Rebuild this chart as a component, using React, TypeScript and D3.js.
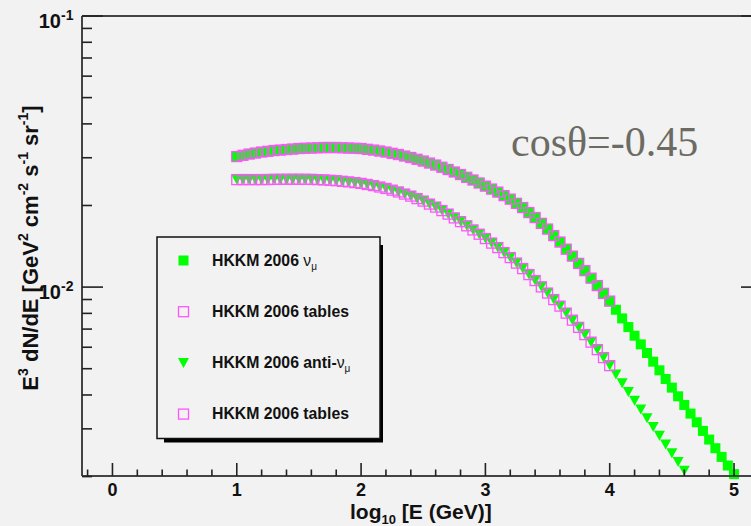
import React from 'react';
import * as d3 from 'd3';

// log10(E/GeV) grid of the HKKM 2006 points
const logE = [
  1.00, 1.05, 1.10, 1.15, 1.20, 1.25, 1.30, 1.35, 1.40, 1.45,
  1.50, 1.55, 1.60, 1.65, 1.70, 1.75, 1.80, 1.85, 1.90, 1.95,
  2.00, 2.05, 2.10, 2.15, 2.20, 2.25, 2.30, 2.35, 2.40, 2.45,
  2.50, 2.55, 2.60, 2.65, 2.70, 2.75, 2.80, 2.85, 2.90, 2.95,
  3.00, 3.05, 3.10, 3.15, 3.20, 3.25, 3.30, 3.35, 3.40, 3.45,
  3.50, 3.55, 3.60, 3.65, 3.70, 3.75, 3.80, 3.85, 3.90, 3.95,
  4.00, 4.05, 4.10, 4.15, 4.20, 4.25, 4.30, 4.35, 4.40, 4.45,
  4.50, 4.55, 4.60, 4.65, 4.70, 4.75, 4.80, 4.85, 4.90, 4.95,
  5.00,
];

// HKKM 2006 nu_mu, E^3 dN/dE
const nuFlux = [
  0.03030, 0.03063, 0.03096, 0.03122, 0.03149, 0.03169, 0.03189, 0.03202, 0.03217, 0.03230,
  0.03244, 0.03251, 0.03258, 0.03264, 0.03272, 0.03272, 0.03272, 0.03264, 0.03258, 0.03251,
  0.03244, 0.03223, 0.03202, 0.03176, 0.03149, 0.03115, 0.03083, 0.03044, 0.03006, 0.02961,
  0.02917, 0.02868, 0.02820, 0.02767, 0.02715, 0.02658, 0.02601, 0.02541, 0.02483, 0.02421,
  0.02358, 0.02299, 0.02241, 0.02175, 0.02111, 0.02037, 0.01965, 0.01883, 0.01805, 0.01718,
  0.01637, 0.01549, 0.01466, 0.01380, 0.01301, 0.01223, 0.01150, 0.01079, 0.01013, 0.009482,
  0.008878, 0.008251, 0.007665, 0.007122, 0.006618, 0.006148, 0.005713, 0.005308, 0.004932, 0.004582,
  0.004258, 0.003955, 0.003675, 0.003415, 0.003173, 0.002948, 0.002739, 0.002545, 0.002364, 0.002197,
  0.002042,
];

// HKKM 2006 anti-nu_mu, E^3 dN/dE
const antiFlux = [
  0.02492, 0.02492, 0.02492, 0.02492, 0.02492, 0.02494, 0.02497, 0.02498, 0.02499, 0.02499,
  0.02499, 0.02498, 0.02497, 0.02491, 0.02486, 0.02477, 0.02469, 0.02456, 0.02444, 0.02428,
  0.02413, 0.02390, 0.02368, 0.02340, 0.02312, 0.02278, 0.02244, 0.02204, 0.02166, 0.02120,
  0.02076, 0.02024, 0.01973, 0.01915, 0.01859, 0.01800, 0.01744, 0.01683, 0.01625, 0.01567,
  0.01510, 0.01453, 0.01399, 0.01340, 0.01285, 0.01226, 0.01170, 0.01112, 0.01057, 0.01002,
  0.009504, 0.008993, 0.008509, 0.008017, 0.007553, 0.007104, 0.006679, 0.006266, 0.005880, 0.005494,
  0.005133, 0.004764, 0.004422, 0.004106, 0.003812, 0.003539, 0.003285, 0.003050, 0.002831, 0.002628,
  0.002440, 0.002265, 0.002103,
];

// HKKM 2006 tables (up to 10^4 GeV)
const nuTables = nuFlux.slice(0, 61);
const antiTables = antiFlux.slice(0, 61);

const xMajorTicks = [0, 1, 2, 3, 4, 5];
const xMinorTicks = [-0.2, 0.2, 0.4, 0.6, 0.8, 1.2, 1.4, 1.6, 1.8, 2.2, 2.4, 2.6, 2.8, 3.2, 3.4, 3.6, 3.8, 4.2, 4.4, 4.6, 4.8, 5.2];
const yMajorTicks = [0.1, 0.01];
const yMajorExp = ['-1', '-2'];
const yMinorTicks = [0.002, 0.003, 0.004, 0.005, 0.006, 0.007, 0.008, 0.009, 0.02, 0.03, 0.04, 0.05, 0.06, 0.07, 0.08, 0.09];

const legendEntries = [
  { kind: 'square', text: 'HKKM 2006 ', greek: 'ν', sub: 'μ' },
  { kind: 'open', text: 'HKKM 2006 tables', greek: '', sub: '' },
  { kind: 'triangle', text: 'HKKM 2006 anti-', greek: 'ν', sub: 'μ' },
  { kind: 'open', text: 'HKKM 2006 tables', greek: '', sub: '' },
];

const annotation = 'cosθ=-0.45';

const W = 751;
const H = 526;
const BG = '#f2f2f2';
const GREEN = '#00ff00';
const MAGENTA = '#ff55ff';
const FONT = '"Liberation Sans", Arial, Helvetica, sans-serif';

const frame = { left: 82, right: 762, top: 16, bottom: 476 };

export default function App() {
  const x = d3.scaleLinear().domain([-0.245, 5.225]).range([frame.left, frame.right]);
  const y = d3.scaleLog().domain([0.00201, 0.1]).range([frame.bottom, frame.top]);
  const yMin = 0.00201;

  const sq = 10;
  const open = 10;
  const tri = (cx: number, cy: number) => `M${cx - 5.5},${cy - 5}L${cx + 5.5},${cy - 5}L${cx},${cy + 5}Z`;

  const nuPts = logE.map((e, i) => ({ e, v: nuFlux[i] })).filter((d) => d.v >= yMin);
  const antiPts = antiFlux.map((v, i) => ({ e: logE[i], v })).filter((d) => d.v >= yMin);
  const nuTab = nuTables.map((v, i) => ({ e: logE[i], v }));
  const antiTab = antiTables.map((v, i) => ({ e: logE[i], v }));

  const legend = { x: 157, y: 237, w: 223, h: 201.5 };
  const rowY = (i: number) => 260.5 + i * 51.2;

  return (
    <div style={{ position: 'absolute', left: 0, top: 0 }}>
      <svg width={W} height={H} style={{ display: 'block' }}>
        <rect x={0} y={0} width={W} height={H} fill={BG} />

        {/* data: green model */}
        <g>
          {nuPts.map((d, i) => (
            <rect key={'n' + i} x={x(d.e) - sq / 2} y={y(d.v) - sq / 2} width={sq} height={sq} fill={GREEN} />
          ))}
          {antiPts.map((d, i) => (
            <path key={'a' + i} d={tri(x(d.e), y(d.v))} fill={GREEN} />
          ))}
        </g>
        {/* tables */}
        <g fill="none" stroke={MAGENTA} strokeWidth={1.3}>
          {nuTab.map((d, i) => (
            <rect key={'nt' + i} x={x(d.e) - open / 2} y={y(d.v) - open / 2} width={open} height={open} />
          ))}
          {antiTab.map((d, i) => (
            <rect key={'at' + i} x={x(d.e) - open / 2} y={y(d.v) - open / 2} width={open} height={open} />
          ))}
        </g>

        {/* frame */}
        <g stroke="#444" strokeWidth={2} fill="none">
          <line x1={frame.left} y1={frame.top} x2={frame.left} y2={frame.bottom} />
          <line x1={frame.left} y1={frame.bottom} x2={frame.right} y2={frame.bottom} />
          <line x1={frame.left} y1={frame.top} x2={frame.right} y2={frame.top} />
          <line x1={frame.right} y1={frame.top} x2={frame.right} y2={frame.bottom} />
        </g>

        {/* ticks */}
        <g stroke="#222" strokeWidth={1.6}>
          {xMajorTicks.map((t) => (
            <line key={'xM' + t} x1={x(t)} x2={x(t)} y1={frame.bottom} y2={frame.bottom - 13} />
          ))}
          {xMinorTicks.map((t) => (
            <line key={'xm' + t} x1={x(t)} x2={x(t)} y1={frame.bottom} y2={frame.bottom - 6.5} />
          ))}
          {yMajorTicks.map((t) => (
            <g key={'yM' + t}>
              <line x1={frame.left} x2={frame.left + 21} y1={y(t)} y2={y(t)} />
              <line x1={frame.right} x2={frame.right - 21} y1={y(t)} y2={y(t)} />
            </g>
          ))}
          {yMinorTicks.map((t) => (
            <g key={'ym' + t}>
              <line x1={frame.left} x2={frame.left + 10} y1={y(t)} y2={y(t)} />
              <line x1={frame.right} x2={frame.right - 10} y1={y(t)} y2={y(t)} />
            </g>
          ))}
        </g>

        {/* x tick labels */}
        <g fontFamily={FONT} fontWeight="bold" fontSize={18} fill="#111" textAnchor="middle">
          {xMajorTicks.map((t) => (
            <text key={'xl' + t} x={x(t)} y={496}>{t}</text>
          ))}
        </g>

        {/* y tick labels */}
        <g fontFamily={FONT} fontWeight="bold" fill="#111">
          {yMajorTicks.map((t, i) => (
            <g key={'yl' + t}>
              <text x={61} y={y(t) + 11.5} fontSize={20} textAnchor="end">10</text>
              <text x={61} y={y(t) + 3.5} fontSize={14} textAnchor="start">{yMajorExp[i]}</text>
            </g>
          ))}
        </g>

        {/* axis titles */}
        <text x={350} y={519} fontFamily={FONT} fontWeight="bold" fontSize={21} fill="#111">
          <tspan>log</tspan>
          <tspan fontSize={13} dy={5}>10</tspan>
          <tspan dy={-5}> [E (GeV)]</tspan>
        </text>
        <text
          transform="translate(38,248) rotate(-90)"
          x={0}
          y={0}
          textAnchor="middle"
          fontFamily={FONT}
          fontWeight="bold"
          fontSize={22}
          fill="#111"
        >
          <tspan>E</tspan>
          <tspan fontSize={14} dy={-10}>3</tspan>
          <tspan dy={10}> dN/dE [GeV</tspan>
          <tspan fontSize={14} dy={-10}>2</tspan>
          <tspan dy={10}> cm</tspan>
          <tspan fontSize={14} dy={-10}>-2</tspan>
          <tspan dy={10}> s</tspan>
          <tspan fontSize={14} dy={-10}>-1</tspan>
          <tspan dy={10}> sr</tspan>
          <tspan fontSize={14} dy={-10}>-1</tspan>
          <tspan dy={10}>]</tspan>
        </text>

        {/* annotation */}
        <text x={511} y={156} fontFamily='"Liberation Serif", "DejaVu Serif", serif' fontSize={42} fill="#6b6b64">
          {annotation}
        </text>

        {/* legend */}
        <rect x={164} y={245} width={219} height={197.5} fill="#000" />
        <rect x={legend.x} y={legend.y} width={legend.w} height={legend.h} fill={BG} stroke="#111" strokeWidth={1.5} />
        {legendEntries.map((en, i) => {
          const cy = rowY(i);
          const mx = 183.5;
          return (
            <g key={'lg' + i}>
              {en.kind === 'square' && <rect x={mx - 5} y={cy - 5} width={10} height={10} fill={GREEN} />}
              {en.kind === 'open' && (
                <rect x={mx - 5} y={cy - 5} width={10} height={10} fill="none" stroke={MAGENTA} strokeWidth={1.3} />
              )}
              {en.kind === 'triangle' && <path d={tri(mx, cy)} fill={GREEN} />}
              <text x={212} y={cy + 5} fontFamily={FONT} fontWeight="bold" fontSize={15.8} fill="#111">
                <tspan>{en.text}</tspan>
                {en.greek && <tspan fontWeight="normal">{en.greek}</tspan>}
                {en.sub && (
                  <tspan fontWeight="normal" fontSize={10} dy={4}>
                    {en.sub}
                  </tspan>
                )}
              </text>
            </g>
          );
        })}
      </svg>
    </div>
  );
}
